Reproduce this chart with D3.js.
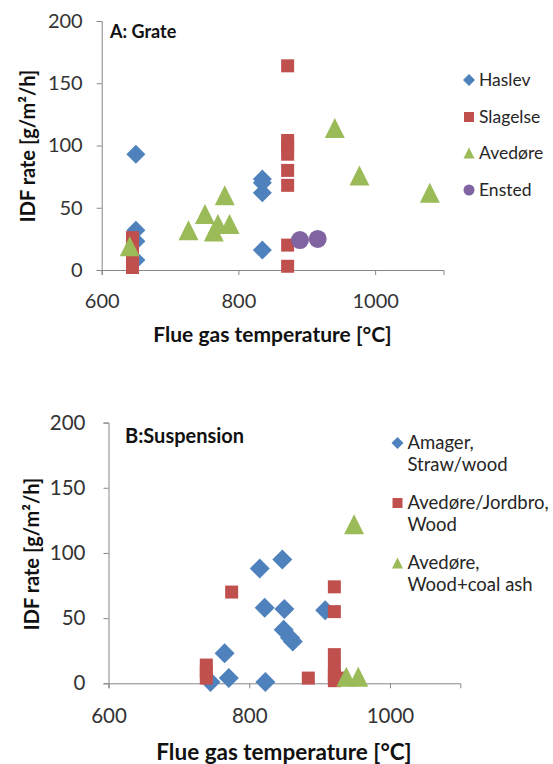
<!DOCTYPE html>
<html lang="en">
<head>
    <meta charset="utf-8">
    <script src="https://d3js.org/d3.v7.min.js"></script>
    <style>
        body { margin: 0; background: #fff; }
        svg { font-family: Lato, "Open Sans", sans-serif; }
    </style>
</head>
<body>
    <svg></svg>
    <script>
        // panel A: grate
        const haslevX = [650, 650, 650, 650, 835, 835, 835, 835]
        const haslevY = [93, 32, 23, 8, 73, 70, 62, 16]
        const slagelseX = [645, 645, 645, 645, 872, 872, 872, 872, 872, 872, 872, 872]
        const slagelseY = [26, 18, 10, 2, 164, 104, 99, 93, 80, 68, 20, 3]
        const avedoreX = [641, 727, 751, 764, 770, 780, 787, 941, 977, 1080]
        const avedoreY = [19, 32, 45, 31, 37, 60, 37, 114, 76, 62]
        const enstedX = [890, 916]
        const enstedY = [24, 25]

        // panel B: suspension
        const amagerX = [815, 847, 822, 850, 849, 858, 862, 908, 765, 771, 745, 823]
        const amagerY = [88, 95, 58, 57, 41, 35, 32, 56, 23, 4, 1, 1]
        const jordbroX = [775, 739, 739, 739, 884, 921, 921, 921, 921, 921, 921, 928]
        const jordbroY = [70, 14, 9, 4, 4, 74, 55, 22, 13, 6, 2, 4]
        const avedoreBX = [949, 938, 955]
        const avedoreBY = [122, 5, 5]

        const xTicks = [600, 800, 1000]
        const yTicks = [0, 50, 100, 150, 200]
        const xDomain = [600, 1100]
        const yDomain = [0, 200]

        const BLUE = '#4f81bd', RED = '#c0504d', GREEN = '#9bbb59', PURPLE = '#8064a2'

        const svg = d3.select('svg').attr('width', 553).attr('height', 764)

        function shape(type, s) {
            const h = s / 2
            if (type === 'diamond') return `M0,${-h}L${h},0L0,${h}L${-h},0Z`
            if (type === 'square') return `M${-h},${-h}H${h}V${h}H${-h}Z`
            if (type === 'triangle') return `M0,${-h}L${h},${h}L${-h},${h}Z`
            return d3.arc()({innerRadius: 0, outerRadius: h, startAngle: 0, endAngle: 2 * Math.PI})
        }

        function zip(xs, ys) { return xs.map((x, i) => ({x: x, y: ys[i]})) }

        const legendMark = {diamond: 12, square: 10, triangle: 11, circle: 11}

        function panel(cfg) {
            const x = d3.scaleLinear().domain(xDomain).range(cfg.xr)
            const y = d3.scaleLinear().domain(yDomain).range(cfg.yr)
            const g = svg.append('g')

            const yAxis = g.append('g')
                .attr('transform', `translate(${cfg.xr[0]},0)`)
                .call(d3.axisLeft(y).tickValues(yTicks).tickSize(5).tickPadding(cfg.ypad))
            const xAxis = g.append('g')
                .attr('transform', `translate(0,${cfg.yr[0]})`)
                .call(d3.axisBottom(x).tickValues(xTicks).tickFormat(d3.format('d'))
                    .tickSize(5).tickPadding(cfg.xpad))
            for (const a of [xAxis, yAxis]) {
                a.select('.domain').attr('stroke', '#868686')
                a.selectAll('.tick line').attr('stroke', '#868686')
                a.selectAll('.tick text')
                    .attr('fill', '#333')
                    .style('font-size', cfg.tickFont + 'px')
                    .style('font-family', 'Lato, sans-serif')
            }

            for (const s of cfg.series) {
                g.append('g').selectAll('path')
                    .data(zip(s.xs, s.ys))
                    .join('path')
                    .attr('transform', d => `translate(${x(d.x)},${y(d.y)})`)
                    .attr('d', shape(s.type, s.size))
                    .attr('fill', s.color)
            }

            g.append('text')
                .attr('x', cfg.label[0]).attr('y', cfg.label[1])
                .attr('font-weight', 'bold').attr('font-size', cfg.labelFont)
                .attr('fill', '#111')
                .text(cfg.labelText)

            g.append('text')
                .attr('x', cfg.xTitle[0]).attr('y', cfg.xTitle[1])
                .attr('text-anchor', 'middle')
                .attr('font-weight', 'bold').attr('font-size', cfg.xTitleFont)
                .attr('fill', '#111')
                .text('Flue gas temperature [°C]')

            g.append('text')
                .attr('transform', `translate(${cfg.yTitle[0]},${cfg.yTitle[1]}) rotate(-90)`)
                .attr('text-anchor', 'middle')
                .attr('font-weight', 'bold').attr('font-size', cfg.yTitleFont)
                .attr('fill', '#111')
                .text('IDF rate [g/m²/h]')

            // legend
            const leg = g.append('g')
            cfg.series.forEach((s, i) => {
                const row = cfg.legendRows[i]
                leg.append('path')
                    .attr('transform', `translate(${cfg.legendX},${row})`)
                    .attr('d', shape(s.type, legendMark[s.type]))
                    .attr('fill', s.color)
                s.name.forEach((line, j) => {
                    leg.append('text')
                        .attr('x', cfg.legendX + 10)
                        .attr('y', row + j * cfg.legendLine)
                        .attr('dy', '0.35em')
                        .attr('font-size', cfg.legendFont)
                        .attr('fill', '#262626')
                        .text(line)
                })
            })
        }

        panel({
            xr: [101.7, 443.5], yr: [270, 21], ypad: 14, xpad: 19, tickFont: 20,
            label: [110, 38], labelText: 'A: Grate', labelFont: 18,
            xTitle: [272.5, 342], xTitleFont: 21, yTitle: [35, 146], yTitleFont: 20,
            legendX: 469, legendRows: [80, 117, 153, 190], legendLine: 22, legendFont: 17.5,
            series: [
                {name: ['Haslev'], xs: haslevX, ys: haslevY, type: 'diamond', size: 19, color: BLUE},
                {name: ['Slagelse'], xs: slagelseX, ys: slagelseY, type: 'square', size: 13, color: RED},
                {name: ['Avedøre'], xs: avedoreX, ys: avedoreY, type: 'triangle', size: 20, color: GREEN},
                {name: ['Ensted'], xs: enstedX, ys: enstedY, type: 'circle', size: 18, color: PURPLE}
            ]
        })

        panel({
            xr: [108.5, 460.3], yr: [683.3, 422.6], ypad: 18, xpad: 20, tickFont: 20.5,
            label: [125, 443], labelText: 'B:Suspension', labelFont: 20,
            xTitle: [284, 760], xTitleFont: 22.5, yTitle: [39, 554], yTitleFont: 20,
            legendX: 397.5, legendRows: [443, 503, 563], legendLine: 22, legendFont: 18.5,
            series: [
                {name: ['Amager,', 'Straw/wood'], xs: amagerX, ys: amagerY, type: 'diamond', size: 20, color: BLUE},
                {name: ['Avedøre/Jordbro,', 'Wood'], xs: jordbroX, ys: jordbroY, type: 'square', size: 13, color: RED},
                {name: ['Avedøre,', 'Wood+coal ash'], xs: avedoreBX, ys: avedoreBY, type: 'triangle', size: 20, color: GREEN}
            ]
        })
    </script>
</body>
</html>
